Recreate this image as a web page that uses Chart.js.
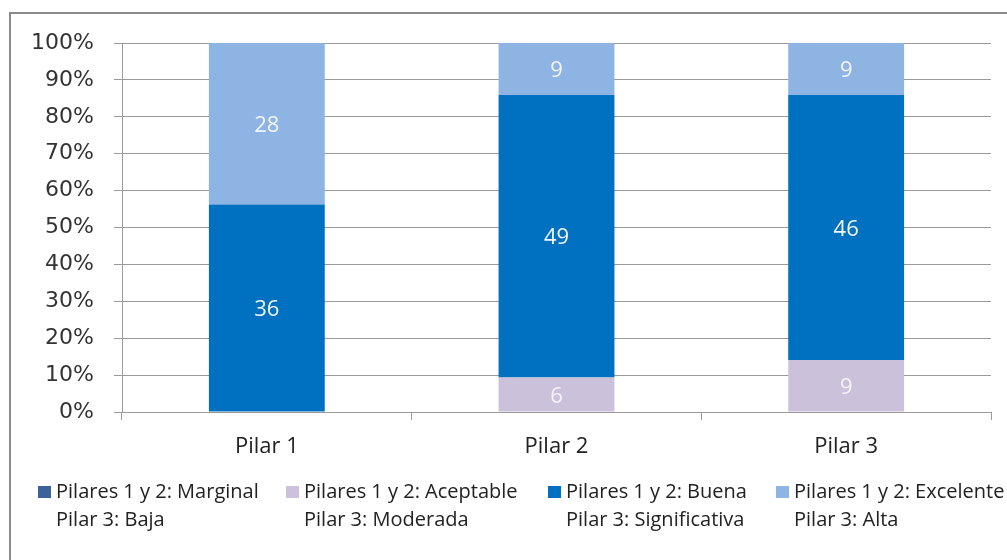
<!DOCTYPE html>
<html>
<head>
<meta charset="utf-8">
<script src="https://cdn.jsdelivr.net/npm/chart.js@4.4.1/dist/chart.umd.min.js"></script>
<style>
  html, body { margin: 0; padding: 0; background: #fff; }
  canvas { display: block; }
</style>
</head>
<body>
<canvas id="chart" width="1007" height="560"></canvas>
<script>
const categories = ['Pilar 1', 'Pilar 2', 'Pilar 3'];
const marginal = [0, 0, 0];
const aceptable = [0, 6, 9];
const buena = [36, 49, 46];
const excelente = [28, 9, 9];
const seriesLabels = [
  ['Pilares 1 y 2: Marginal', 'Pilar 3: Baja'],
  ['Pilares 1 y 2: Aceptable', 'Pilar 3: Moderada'],
  ['Pilares 1 y 2: Buena', 'Pilar 3: Significativa'],
  ['Pilares 1 y 2: Excelente', 'Pilar 3: Alta']
];
const colors = ['#3C6399', '#CCC1DA', '#0070C0', '#8EB4E3'];

const counts = [marginal, aceptable, buena, excelente];
const totals = categories.map((c, i) => counts.reduce((s, arr) => s + arr[i], 0));
const toPct = arr => arr.map((v, i) => v / totals[i] * 100);

const gridColor = '#9a9a9a';

// value labels in the middle of each segment
const segmentLabels = {
  id: 'segmentLabels',
  afterDatasetsDraw(chart) {
    const ctx = chart.ctx;
    ctx.save();
    ctx.font = '22px "Open Sans"';
    ctx.fillStyle = '#f4f4f4';
    ctx.textAlign = 'center';
    ctx.textBaseline = 'middle';
    chart.data.datasets.forEach((ds, di) => {
      const meta = chart.getDatasetMeta(di);
      meta.data.forEach((bar, i) => {
        const n = counts[di][i];
        if (!n) return;
        ctx.fillText(String(n), bar.x, (bar.y + bar.base) / 2 + 2);
      });
    });
    ctx.restore();
  }
};

// frame + two-line legend
const legendX = [38, 286, 548, 776];
const frameAndLegend = {
  id: 'frameAndLegend',
  beforeDraw(chart) {
    const ctx = chart.ctx;
    ctx.save();
    ctx.strokeStyle = '#8a8a8a';
    ctx.lineWidth = 2;
    ctx.beginPath();
    ctx.moveTo(10, 600);
    ctx.lineTo(10, 13);
    ctx.lineTo(1010, 13);
    ctx.stroke();
    ctx.restore();
  },
  afterDraw(chart) {
    const ctx = chart.ctx;
    ctx.save();
    ctx.font = '20px "Open Sans"';
    ctx.textBaseline = 'middle';
    ctx.textAlign = 'left';
    seriesLabels.forEach((lines, i) => {
      const x = legendX[i];
      ctx.fillStyle = colors[i];
      ctx.fillRect(x, 486, 13, 12);
      ctx.fillStyle = '#222';
      ctx.fillText(lines[0], x + 18, 492);
      ctx.fillText(lines[1], x + 18, 520);
    });
    ctx.restore();
  }
};

new Chart(document.getElementById('chart'), {
  type: 'bar',
  data: {
    labels: categories,
    datasets: counts.map((arr, i) => ({
      label: seriesLabels[i].join(' '),
      data: toPct(arr),
      backgroundColor: colors[i],
      borderWidth: 0,
      categoryPercentage: 1,
      barPercentage: 0.4
    }))
  },
  options: {
    responsive: false,
    animation: false,
    devicePixelRatio: 1,
    layout: { padding: { left: 0, top: 43, right: 16, bottom: 0 } },
    plugins: {
      legend: { display: false },
      tooltip: { enabled: false }
    },
    scales: {
      x: {
        stacked: true,
        grid: {
          offset: true,
          drawOnChartArea: false,
          drawTicks: true,
          tickLength: 8,
          color: gridColor
        },
        border: { color: gridColor },
        ticks: {
          color: '#222',
          font: { family: 'Open Sans', size: 22 },
          padding: 14
        },
        afterFit(s) { s.height = 148; }
      },
      y: {
        stacked: true,
        min: 0,
        max: 100,
        grid: {
          color: gridColor,
          tickLength: 8
        },
        border: { color: gridColor },
        ticks: {
          stepSize: 10,
          color: '#333',
          font: { family: 'DejaVu Sans', size: 22 },
          padding: 20,
          callback: v => v + '%'
        },
        afterFit(s) { s.width = 122; }
      }
    }
  },
  plugins: [segmentLabels, frameAndLegend]
});
</script>
</body>
</html>
